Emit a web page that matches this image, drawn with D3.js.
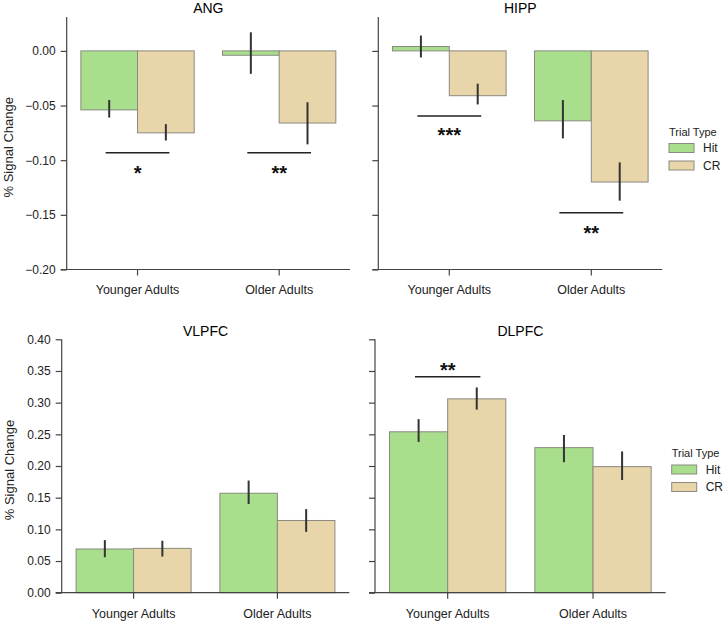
<!DOCTYPE html>
<html>
<head>
<meta charset="utf-8">
<script src="https://cdn.jsdelivr.net/npm/d3@7"></script>
<style>
  html, body { margin: 0; padding: 0; background: #fff; }
  svg { display: block; font-family: "Liberation Sans", Arial, Helvetica, sans-serif; }
</style>
</head>
<body>
<svg id="chart" width="726" height="622"></svg>
<script>
// ---------------- DATA ----------------
const groups = ["Younger Adults", "Older Adults"];
const trialTypes = ["Hit", "CR"];

const angHit = [-0.054, -0.004];
const angCR = [-0.075, -0.066];
const angHitLo = [-0.061, -0.021];
const angHitHi = [-0.045, 0.017];
const angCRLo = [-0.082, -0.0855];
const angCRHi = [-0.067, -0.047];

const hippHit = [0.004, -0.064];
const hippCR = [-0.041, -0.120];
const hippHitLo = [-0.006, -0.080];
const hippHitHi = [0.014, -0.045];
const hippCRLo = [-0.049, -0.137];
const hippCRHi = [-0.030, -0.102];

const vlpfcHit = [0.069, 0.157];
const vlpfcCR = [0.070, 0.114];
const vlpfcHitLo = [0.056, 0.140];
const vlpfcHitHi = [0.083, 0.177];
const vlpfcCRLo = [0.057, 0.096];
const vlpfcCRHi = [0.082, 0.132];

const dlpfcHit = [0.254, 0.229];
const dlpfcCR = [0.306, 0.199];
const dlpfcHitLo = [0.238, 0.206];
const dlpfcHitHi = [0.274, 0.249];
const dlpfcCRLo = [0.289, 0.178];
const dlpfcCRHi = [0.324, 0.223];

const topTicks = [0.00, -0.05, -0.10, -0.15, -0.20];
const bottomTicks = [0.00, 0.05, 0.10, 0.15, 0.20, 0.25, 0.30, 0.35, 0.40];

// significance annotations: group index, line value, star value, label
const angSig = [{ g: 0, line: -0.0933, star: -0.109, label: "*" }, { g: 1, line: -0.0933, star: -0.109, label: "**" }];
const hippSig = [{ g: 0, line: -0.0595, star: -0.0745, label: "***" }, { g: 1, line: -0.148, star: -0.1635, label: "**" }];
const vlpfcSig = [];
const dlpfcSig = [{ g: 0, line: 0.341, star: 0.3565, label: "**" }];

// ---------------- STYLE ----------------
const colors = { Hit: "#a8de8c", CR: "#e8d5aa" };
const svg = d3.select("#chart");

function drawPanel(p) {
  const g = svg.append("g");
  const x = d3.scaleBand().domain(groups).range([p.left, p.right]).paddingInner(0.2).paddingOuter(0.1);
  const xs = d3.scaleBand().domain(trialTypes).range([0, x.bandwidth()]);
  const y = d3.scaleLinear().domain(p.domain).range([p.bottom, p.top]);

  const rows = [];
  groups.forEach((grp, i) => {
    rows.push({ grp, type: "Hit", v: p.hit[i], lo: p.hitLo[i], hi: p.hitHi[i] });
    rows.push({ grp, type: "CR", v: p.cr[i], lo: p.crLo[i], hi: p.crHi[i] });
  });

  // bars
  g.selectAll("rect.bar").data(rows).enter().append("rect")
    .attr("class", "bar")
    .attr("x", d => x(d.grp) + xs(d.type))
    .attr("width", xs.bandwidth())
    .attr("y", d => Math.min(y(d.v), y(0)))
    .attr("height", d => Math.abs(y(d.v) - y(0)))
    .attr("fill", d => colors[d.type])
    .attr("stroke", "#8a8a80")
    .attr("stroke-width", 1);

  // error bars
  g.selectAll("line.err").data(rows).enter().append("line")
    .attr("x1", d => x(d.grp) + xs(d.type) + xs.bandwidth() / 2)
    .attr("x2", d => x(d.grp) + xs(d.type) + xs.bandwidth() / 2)
    .attr("y1", d => y(d.lo))
    .attr("y2", d => y(d.hi))
    .attr("stroke", "#333")
    .attr("stroke-width", 2);

  // y axis
  const ya = d3.axisLeft(y).tickValues(p.ticks).tickSize(6).tickPadding(5)
    .tickFormat(d3.format(".2f"));
  const yg = g.append("g").attr("transform", `translate(${p.left},0)`).call(ya);
  yg.select(".domain").attr("d", `M0,${p.top}V${p.bottom}`);
  if (!p.showLabels) yg.selectAll("text").remove();

  // x axis
  const xa = d3.axisBottom(x).tickSize(6).tickPadding(10);
  const xg = g.append("g").attr("transform", `translate(0,${p.bottom})`).call(xa);
  xg.select(".domain").attr("d", `M${p.left - 6},0H${p.right}`);

  [yg, xg].forEach(a => {
    a.selectAll(".domain, .tick line").attr("stroke", "#444").attr("stroke-width", 1.2);
    a.selectAll("text").attr("fill", "#222").attr("font-family", "Liberation Sans, Arial, sans-serif");
  });
  yg.selectAll("text").attr("font-size", 12);
  xg.selectAll("text").attr("font-size", 12.5);

  // title
  g.append("text").attr("x", (p.left + p.right) / 2).attr("y", p.titleY)
    .attr("text-anchor", "middle").attr("font-size", 14).attr("fill", "#000").text(p.title);

  // y label
  if (p.showLabels) {
    g.append("text")
      .attr("transform", `translate(${p.ylabX},${(p.top + p.bottom) / 2 + 4}) rotate(-90)`)
      .attr("text-anchor", "middle").attr("font-size", 13).attr("fill", "#222")
      .text("% Signal Change");
  }

  // significance
  p.sig.forEach(s => {
    const cx = x(groups[s.g]) + x.bandwidth() / 2;
    const half = x.step() * 0.225;
    g.append("line").attr("x1", cx - half).attr("x2", cx + half)
      .attr("y1", y(s.line)).attr("y2", y(s.line))
      .attr("stroke", "#222").attr("stroke-width", 1.5);
    g.append("text").attr("x", cx).attr("y", y(s.star) + 10)
      .attr("text-anchor", "middle").attr("font-size", 20).attr("font-weight", "bold")
      .attr("fill", "#111").text(s.label);
  });

  // legend
  if (p.legend) {
    const L = p.legend;
    g.append("text").attr("x", L.x).attr("y", L.y).attr("font-size", 11).attr("fill", "#222").text("Trial Type");
    trialTypes.forEach((t, i) => {
      g.append("rect").attr("x", L.x).attr("y", L.y + 8 + i * 17.5).attr("width", 25).attr("height", 9)
        .attr("fill", colors[t]).attr("stroke", "#8a8a80").attr("stroke-width", 1);
      g.append("text").attr("x", L.x + 34).attr("y", L.y + 16.5 + i * 17.5)
        .attr("font-size", 12).attr("fill", "#222").text(t);
    });
  }
}

const topDomain = [-0.20, 0.031];
drawPanel({ title: "ANG", left: 66.7, right: 350, top: 17, bottom: 269.5, domain: topDomain, ticks: topTicks,
  hit: angHit, cr: angCR, hitLo: angHitLo, hitHi: angHitHi, crLo: angCRLo, crHi: angCRHi,
  sig: angSig, showLabels: true, ylabX: 12.5, titleY: 12.5 });
drawPanel({ title: "HIPP", left: 378.3, right: 662.3, top: 17, bottom: 269.5, domain: topDomain, ticks: topTicks,
  hit: hippHit, cr: hippCR, hitLo: hippHitLo, hitHi: hippHitHi, crLo: hippCRLo, crHi: hippCRHi,
  sig: hippSig, showLabels: false, titleY: 12.5, legend: { x: 669, y: 135.5 } });
drawPanel({ title: "VLPFC", left: 61.7, right: 349.3, top: 339.3, bottom: 592.7, domain: [0, 0.40], ticks: bottomTicks,
  hit: vlpfcHit, cr: vlpfcCR, hitLo: vlpfcHitLo, hitHi: vlpfcHitHi, crLo: vlpfcCRLo, crHi: vlpfcCRHi,
  sig: vlpfcSig, showLabels: true, ylabX: 14, titleY: 336 });
drawPanel({ title: "DLPFC", left: 375, right: 665.7, top: 339.3, bottom: 592.7, domain: [0, 0.40], ticks: bottomTicks,
  hit: dlpfcHit, cr: dlpfcCR, hitLo: dlpfcHitLo, hitHi: dlpfcHitHi, crLo: dlpfcCRLo, crHi: dlpfcCRHi,
  sig: dlpfcSig, showLabels: false, titleY: 335.5, legend: { x: 671.7, y: 457 } });
</script>
</body>
</html>
